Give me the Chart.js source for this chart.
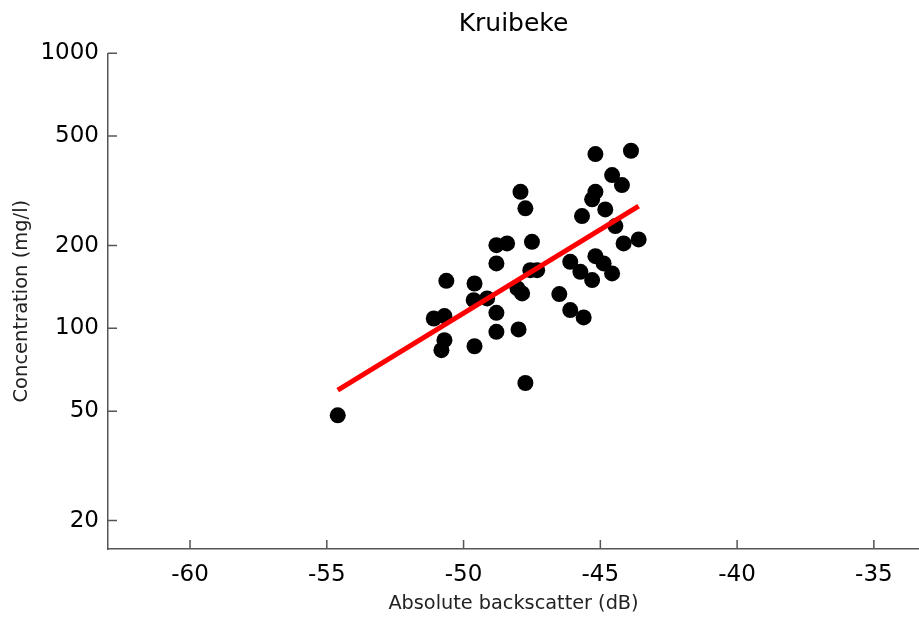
<!DOCTYPE html>
<html>
<head>
<meta charset="utf-8">
<title>Kruibeke</title>
<script src="https://cdn.jsdelivr.net/npm/chart.js@4/dist/chart.umd.min.js"></script>
<style>
  html, body { margin: 0; padding: 0; background: #fff; }
  canvas { display: block; }
</style>
</head>
<body>
<canvas id="myChart" width="919" height="617"></canvas>
<script>
// backscatter (dB) vs concentration (mg/l), one entry per sample
const backscatter = [-54.60, -51.09, -50.70, -50.63, -50.70, -50.81, -49.60, -49.60, -49.63, -49.14,
  -48.80, -48.80, -48.80, -48.80, -48.41, -47.92, -47.74, -47.50, -47.56, -47.31,
  -48.03, -47.86, -47.99, -47.74, -46.50, -46.10, -46.10, -45.61, -45.73, -45.30,
  -45.18, -43.88, -44.57, -44.21, -45.18, -45.30, -44.82, -45.67, -44.45, -44.15,
  -43.60, -45.18, -44.88, -44.57];
const concentration = [48.3, 108.6, 110.8, 148.9, 90.6, 83.3, 86.1, 145.6, 126.6, 128.5,
  200.7, 172.2, 113.9, 97.1, 203.6, 313.7, 273.1, 206.4, 162.8, 162.8,
  139.7, 134.0, 99.1, 63.3, 133.2, 174.5, 116.5, 109.6, 160.5, 149.8,
  430.3, 442.3, 360.8, 331.8, 313.7, 294.4, 270.7, 255.9, 235.4, 203.6,
  210.6, 183.0, 172.2, 158.4];

// regression line end points
const fitX = [-54.6, -43.6];
const fitY = [59.6, 278];

const xTicks = [-60, -55, -50, -45, -40, -35];
const yTicks = [20, 50, 100, 200, 500, 1000];

const fontFam = '"DejaVu Sans", Verdana, sans-serif';
const axisColor = '#555';

// matlab style ticks, pointing into the plot
const inwardTicks = {
  id: 'inwardTicks',
  afterDatasetsDraw(chart) {
    const { ctx, chartArea, scales } = chart;
    ctx.save();
    ctx.strokeStyle = axisColor;
    ctx.lineWidth = 1.5;
    ctx.beginPath();
    scales.x.ticks.forEach(t => {
      const px = scales.x.getPixelForValue(t.value);
      ctx.moveTo(px, chartArea.bottom);
      ctx.lineTo(px, chartArea.bottom - 9);
    });
    scales.y.ticks.forEach(t => {
      const py = scales.y.getPixelForValue(t.value);
      ctx.moveTo(chartArea.left, py);
      ctx.lineTo(chartArea.left + 9, py);
    });
    ctx.stroke();
    ctx.restore();
  }
};

document.addEventListener('DOMContentLoaded', () => {
  const ctx = document.getElementById('myChart').getContext('2d');

  const points = backscatter.map((x, i) => ({ x: x, y: concentration[i] }));
  const fitLine = fitX.map((x, i) => ({ x: x, y: fitY[i] }));

  new Chart(ctx, {
    type: 'scatter',
    data: {
      datasets: [{
        type: 'line',
        label: 'fit',
        data: fitLine,
        borderColor: '#ff0000',
        borderWidth: 5,
        pointRadius: 0,
        showLine: true,
        fill: false,
        order: 0
      }, {
        label: 'samples',
        data: points,
        backgroundColor: '#000',
        borderColor: '#000',
        borderWidth: 0,
        pointRadius: 8,
        pointHoverRadius: 8,
        order: 1
      }]
    },
    options: {
      responsive: false,
      animation: false,
      layout: { padding: 0, autoPadding: false },
      plugins: {
        legend: { display: false },
        tooltip: { enabled: false },
        title: {
          display: true,
          text: 'Kruibeke',
          fullSize: false,
          color: '#000',
          font: { family: fontFam, size: 25, weight: 'normal', lineHeight: 1.2 },
          padding: { top: 9, bottom: 14.3 }
        }
      },
      scales: {
        x: {
          type: 'linear',
          min: -63,
          max: -33.35,
          grid: { display: false, drawTicks: false },
          border: { display: true, color: axisColor, width: 1.5 },
          afterBuildTicks: s => { s.ticks = xTicks.map(v => ({ value: v })); },
          afterFit: s => { s.height = 68; },
          ticks: {
            color: '#000',
            padding: 12,
            maxRotation: 0,
            font: { family: fontFam, size: 23 },
            callback: v => String(v)
          },
          title: {
            display: true,
            text: 'Absolute backscatter (dB)',
            color: '#222',
            font: { family: fontFam, size: 19.3 },
            padding: { top: 0, bottom: 1 }
          }
        },
        y: {
          type: 'logarithmic',
          min: 15.77,
          max: 1000,
          grid: { display: false, drawTicks: false },
          border: { display: true, color: axisColor, width: 1.5 },
          afterBuildTicks: s => { s.ticks = yTicks.map(v => ({ value: v })); },
          afterFit: s => { s.width = 108; },
          ticks: {
            color: '#000',
            padding: 9,
            font: { family: fontFam, size: 23 },
            callback: v => String(v)
          },
          title: {
            display: true,
            text: 'Concentration (mg/l)',
            color: '#222',
            font: { family: fontFam, size: 19.5 },
            padding: { top: 10, bottom: 0 }
          }
        }
      }
    },
    plugins: [inwardTicks]
  });
});
</script>
</body>
</html>
